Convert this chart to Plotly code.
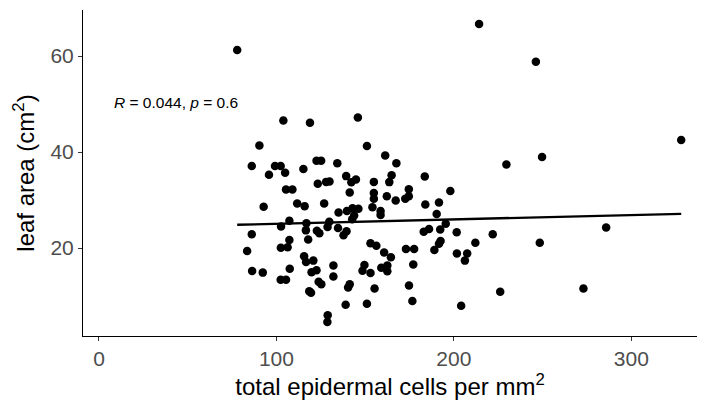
import numpy as np
import plotly.graph_objects as go

cells = [
    77.9, 103.9, 118.9, 90.4, 86.1, 99.2, 102.4, 95.8, 104.9, 115.2,
    122.6, 125.2, 123.3, 128.0, 129.9, 105.4, 109.0, 92.8, 111.7, 115.9,
    126.9, 107.3, 102.6, 116.9, 86.1, 116.6, 122.8, 124.2, 107.3, 117.9,
    83.5, 102.5, 106.3, 115.6, 116.7, 120.8, 86.3, 92.3, 107.5, 119.8,
    122.6, 102.4, 105.4, 123.8, 125.3, 118.5, 119.5, 128.9, 128.7,
    145.9, 151.0, 161.3, 167.6, 134.3, 139.3, 144.8, 142.2, 154.9, 164.9,
    163.6, 183.6, 141.3, 154.9, 154.9, 162.2, 167.2, 174.6, 174.6, 172.6,
    198.0, 191.6, 183.9, 135.0, 139.7, 142.9, 146.2, 154.1, 158.7, 158.7,
    143.8, 142.7, 190.3, 195.4, 129.8, 128.8, 134.7, 139.5, 137.8, 183.0,
    186.0, 192.3, 201.6, 153.0, 156.3, 192.5, 191.6, 173.0, 177.6, 189.0,
    160.7, 164.5, 177.1, 149.6, 148.5, 153.0, 159.1, 162.5, 162.5, 132.1,
    132.1, 141.3, 140.4, 155.3, 174.7, 176.6, 139.0, 151.0,
    212.1, 221.9, 201.7, 207.5, 206.2, 204.1, 226.1, 229.6, 249.7, 248.4,
    285.8, 273.0, 328.1, 214.2, 246.2,
]
leaf_area = [
    61.25, 46.6, 46.1, 41.4, 37.1, 37.1, 37.1, 35.3, 35.7, 36.5,
    38.2, 38.2, 33.4, 33.8, 33.9, 32.2, 32.2, 28.6, 29.3, 28.75,
    29.3, 25.7, 24.5, 25.2, 22.9, 23.7, 23.6, 23.1, 21.7, 21.8,
    19.4, 20.1, 20.2, 18.3, 17.1, 17.4, 15.25, 14.9, 15.7, 15.0,
    15.4, 13.4, 13.4, 13.0, 12.5, 11.0, 10.7, 6.0, 4.6,
    47.2, 41.25, 39.3, 37.7, 37.7, 35.0, 34.3, 33.7, 33.8, 35.2,
    33.75, 34.9, 31.6, 31.5, 30.3, 30.8, 29.9, 32.25, 30.8, 30.3,
    31.9, 29.5, 29.1, 27.4, 27.75, 28.3, 28.2, 28.5, 27.75, 26.9,
    26.8, 26.0, 27.1, 25.1, 25.5, 24.4, 24.2, 23.5, 22.7, 23.4,
    24.0, 23.9, 23.3, 21.0, 20.5, 21.5, 20.9, 19.8, 19.8, 19.6,
    19.1, 18.1, 16.6, 16.5, 15.3, 14.8, 15.9, 16.4, 15.2, 16.4,
    14.1, 12.5, 11.8, 11.6, 12.2, 9.0, 8.2, 8.4,
    21.1, 22.9, 18.9, 18.9, 17.4, 8.0, 10.9, 37.4, 39.0, 21.1,
    24.3, 11.6, 42.5, 66.7, 58.8,
]

x_ticks = [0, 100, 200, 300]
y_ticks = [20, 40, 60]
x_title = "total epidermal cells per mm<sup>2</sup>"
y_title = "leaf area (cm<sup>2</sup>)"
stat_label = "<i>R</i> = 0.044, <i>p</i> = 0.6"

xa = np.array(cells)
ya = np.array(leaf_area)
slope, intercept = np.polyfit(xa, ya, 1)
line_x = np.array([xa.min(), xa.max()])
line_y = slope * line_x + intercept

fig = go.Figure()
fig.add_trace(go.Scatter(
    x=cells, y=leaf_area, mode="markers",
    marker=dict(color="black", size=8.5, line=dict(width=0)),
    showlegend=False, hoverinfo="skip",
))
fig.add_trace(go.Scatter(
    x=line_x, y=line_y, mode="lines",
    line=dict(color="black", width=2.4),
    showlegend=False, hoverinfo="skip",
))

fig.add_annotation(
    x=7.3, y=50.4, xref="x", yref="y", text=stat_label,
    showarrow=False, xanchor="left", yanchor="middle",
    font=dict(family="Liberation Sans, Arial, sans-serif", size=15.5, color="black"),
)

axis_font = dict(family="Liberation Sans, Arial, sans-serif", size=21, color="#4D4D4D")
title_font = dict(family="Liberation Sans, Arial, sans-serif", size=24, color="black")

fig.update_layout(
    width=702, height=400,
    margin=dict(l=83, r=5, t=10, b=64),
    paper_bgcolor="white", plot_bgcolor="white",
    xaxis=dict(
        range=[-9, 337], tickvals=x_ticks, ticktext=[str(v) for v in x_ticks],
        showgrid=False, zeroline=False, showline=True, linecolor="black", linewidth=1.1,
        ticks="outside", ticklen=4, tickcolor="#333333", tickwidth=1,
        tickfont=axis_font,
        title=dict(text=x_title, font=title_font, standoff=4),
    ),
    yaxis=dict(
        range=[1.7, 69.6], tickvals=y_ticks, ticktext=[str(v) for v in y_ticks],
        showgrid=False, zeroline=False, showline=True, linecolor="black", linewidth=1.1,
        ticks="outside", ticklen=4, tickcolor="#333333", tickwidth=1,
        tickfont=axis_font,
        title=dict(text=y_title, font=title_font, standoff=8),
    ),
)

fig.write_html("out.html")
